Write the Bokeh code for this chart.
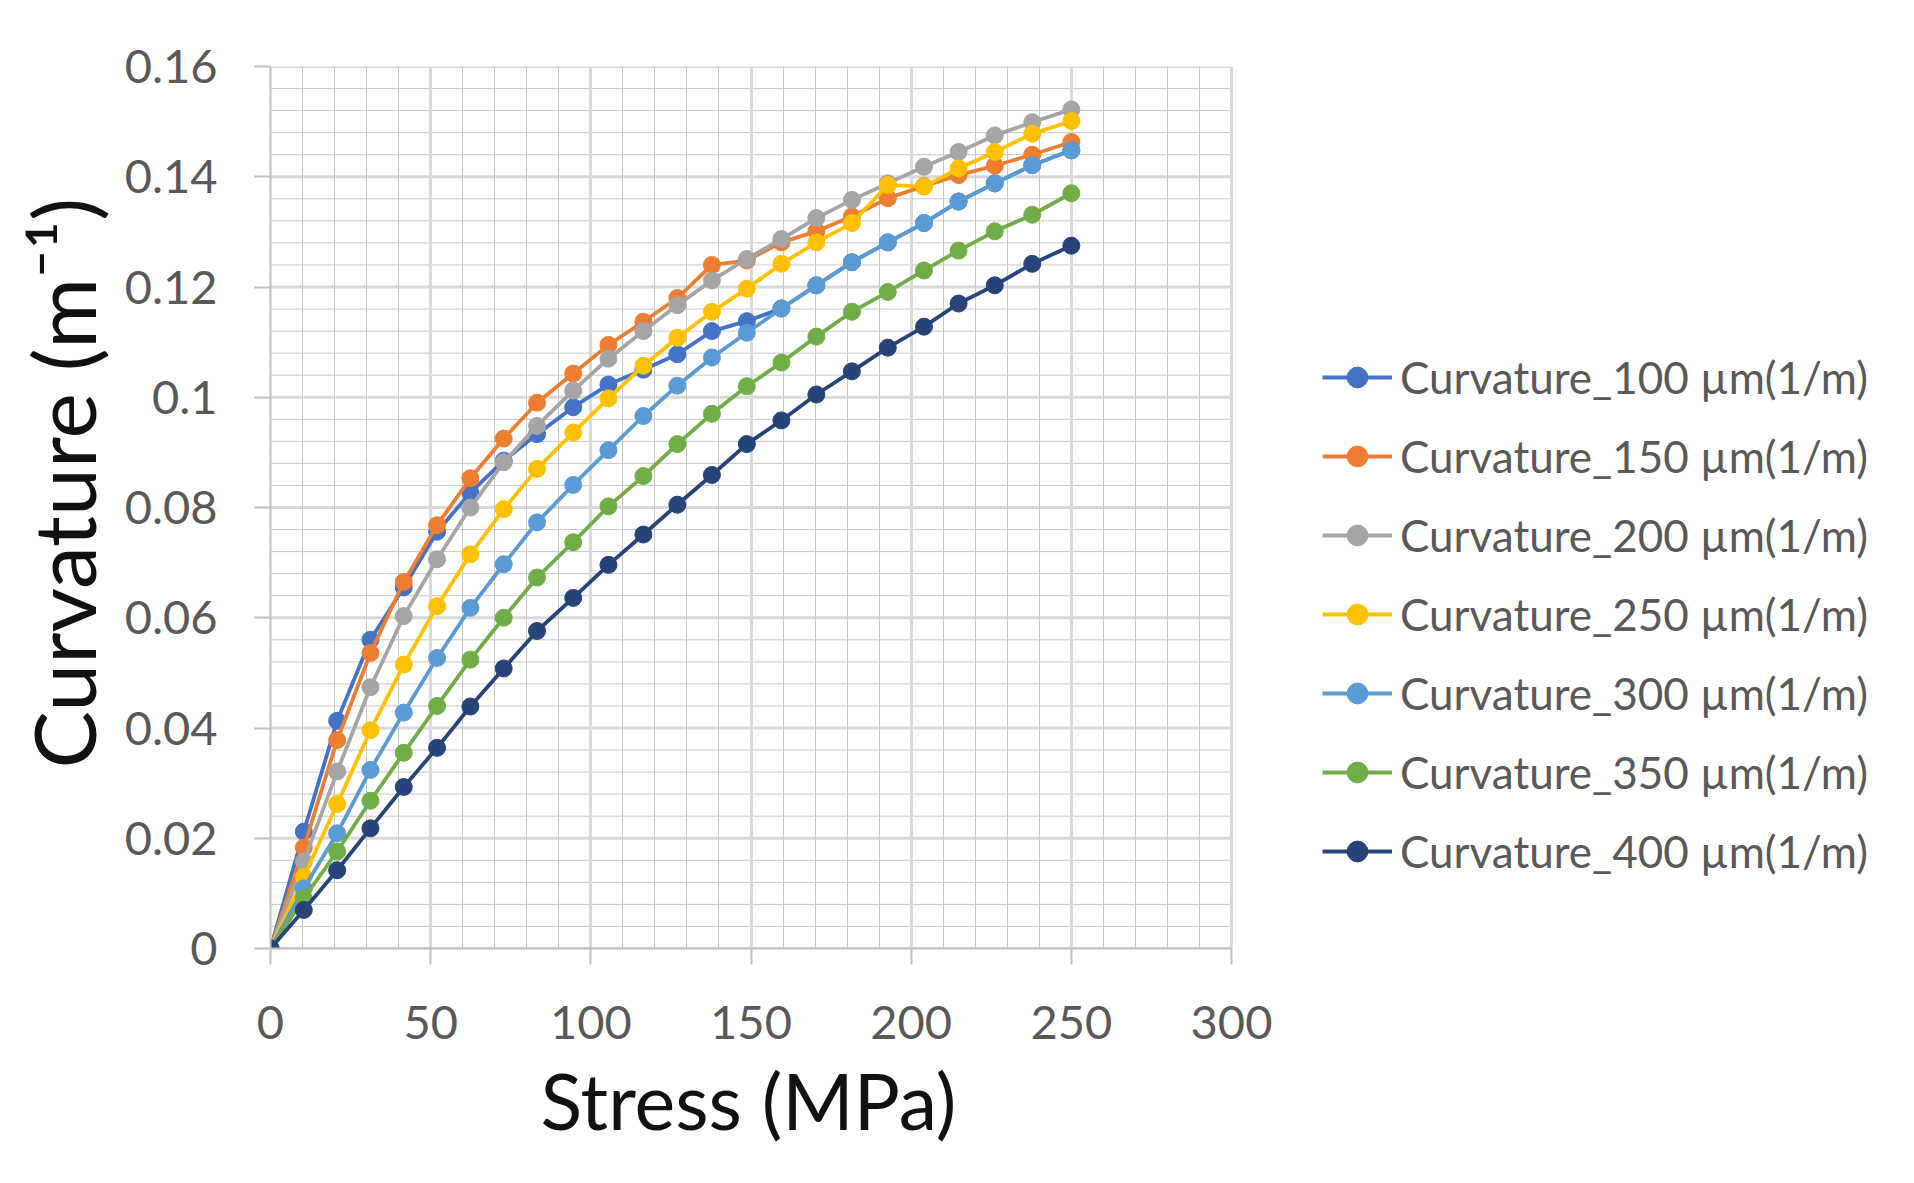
from bokeh.plotting import figure
from bokeh.models import FixedTicker, NumeralTickFormatter, Legend, LegendItem, Range1d, Title
from bokeh.embed import file_html
from bokeh.resources import INLINE

# ---- data ----
stress = [0, 10.4, 20.8, 31.2, 41.6, 52.0, 62.4, 72.8, 83.2, 94.5, 105.5, 116.4,
          127.0, 137.8, 148.7, 159.5, 170.4, 181.5, 192.7, 204.0, 214.8, 226.1, 237.8, 250.0]

c100 = [0, 0.0212, 0.0413, 0.0560, 0.0655, 0.0756, 0.0827, 0.0885, 0.0933, 0.0982, 0.1023, 0.1050,
        0.1078, 0.1120, 0.1138, 0.1161, 0.1203, 0.1245, 0.1281, 0.1316, 0.1355, 0.1388, 0.1421, 0.1448]
c150 = [0, 0.0183, 0.0378, 0.0536, 0.0665, 0.0768, 0.0853, 0.0925, 0.0990, 0.1043, 0.1095, 0.1137,
        0.1180, 0.1240, 0.1248, 0.1281, 0.1301, 0.1328, 0.1361, 0.1383, 0.1403, 0.1420, 0.1440, 0.1463]
c200 = [0, 0.0158, 0.0321, 0.0474, 0.0603, 0.0706, 0.0800, 0.0882, 0.0948, 0.1012, 0.1070, 0.1120,
        0.1167, 0.1212, 0.1251, 0.1287, 0.1325, 0.1358, 0.1388, 0.1418, 0.1445, 0.1475, 0.1499, 0.1522]
c250 = [0, 0.0130, 0.0262, 0.0396, 0.0515, 0.0621, 0.0715, 0.0797, 0.0870, 0.0936, 0.0998, 0.1057,
        0.1108, 0.1155, 0.1197, 0.1242, 0.1281, 0.1316, 0.1385, 0.1382, 0.1415, 0.1445, 0.1478, 0.1501]
c300 = [0, 0.0109, 0.0209, 0.0324, 0.0428, 0.0527, 0.0618, 0.0697, 0.0773, 0.0841, 0.0904, 0.0966,
        0.1021, 0.1072, 0.1117, 0.1161, 0.1203, 0.1245, 0.1281, 0.1316, 0.1355, 0.1388, 0.1421, 0.1448]
c350 = [0, 0.0091, 0.0176, 0.0268, 0.0355, 0.0440, 0.0524, 0.0600, 0.0673, 0.0737, 0.0802, 0.0857,
        0.0915, 0.0970, 0.1020, 0.1063, 0.1110, 0.1155, 0.1191, 0.1230, 0.1266, 0.1301, 0.1331, 0.1370]
c400 = [0, 0.0070, 0.0142, 0.0218, 0.0293, 0.0364, 0.0439, 0.0508, 0.0576, 0.0636, 0.0696, 0.0751,
        0.0805, 0.0859, 0.0915, 0.0958, 0.1005, 0.1047, 0.1090, 0.1128, 0.1170, 0.1203, 0.1242, 0.1275]

series_names = ["Curvature_100 µm(1/m)", "Curvature_150 µm(1/m)", "Curvature_200 µm(1/m)",
                "Curvature_250 µm(1/m)", "Curvature_300 µm(1/m)", "Curvature_350 µm(1/m)",
                "Curvature_400 µm(1/m)"]
series_values = [c100, c150, c200, c250, c300, c350, c400]
series_colors = ["#4472C4", "#ED7D31", "#A5A5A5", "#FFC000", "#5B9BD5", "#70AD47", "#264478"]

x_ticks = [0, 50, 100, 150, 200, 250, 300]
x_minor = [10, 20, 30, 40, 60, 70, 80, 90, 110, 120, 130, 140, 160, 170, 180, 190,
           210, 220, 230, 240, 260, 270, 280, 290]
y_ticks = [0, 0.02, 0.04, 0.06, 0.08, 0.10, 0.12, 0.14, 0.16]
y_minor = [0.004, 0.008, 0.012, 0.016, 0.024, 0.028, 0.032, 0.036, 0.044, 0.048, 0.052, 0.056,
           0.064, 0.068, 0.072, 0.076, 0.084, 0.088, 0.092, 0.096, 0.104, 0.108, 0.112, 0.116,
           0.124, 0.128, 0.132, 0.136, 0.144, 0.148, 0.152, 0.156]

x_title = "Stress (MPa)"
y_title = "Curvature (m⁻¹)"

FONT = "Lato"
TXT = "#595959"

# layout (pixels): plot area 0..300 MPa spans 961 px; the frame continues to the right
# (blank) so that the legend can sit beside the chart
PLOT_PX = 961
FRAME_W = 1633
FRAME_H = 882
x_end = x_ticks[-1] * FRAME_W / PLOT_PX

p = figure(frame_width=FRAME_W, frame_height=FRAME_H, output_backend="svg", toolbar_location=None,
           x_range=Range1d(0, x_end), y_range=Range1d(0, 0.16),
           min_border_left=265, min_border_right=0, min_border_top=66, min_border_bottom=200)

p.background_fill_color = "white"
p.border_fill_color = "white"
p.outline_line_color = None

p.xaxis.ticker = FixedTicker(ticks=x_ticks, minor_ticks=x_minor)
p.yaxis.ticker = FixedTicker(ticks=y_ticks, minor_ticks=y_minor)
p.yaxis.formatter = NumeralTickFormatter(format="0.[00]")
p.xaxis.bounds = (x_ticks[0], x_ticks[-1])

for ax in (p.xaxis[0], p.yaxis[0]):
    ax.axis_line_color = "#bfbfbf"
    ax.axis_line_width = 2
    ax.major_tick_line_color = "#bfbfbf"
    ax.major_tick_line_width = 2
    ax.major_tick_out = 16
    ax.major_tick_in = 0
    ax.minor_tick_out = 0
    ax.minor_tick_in = 0
    ax.major_label_text_font = FONT
    ax.major_label_text_font_size = "47px"
    ax.major_label_text_color = TXT

p.xaxis.major_label_standoff = 41
p.yaxis.major_label_standoff = 37

# axis titles as side-panel titles so they can be placed along the 0..300 part
xt = Title(text=x_title, align="left", offset=270, standoff=20,
           text_font=FONT, text_font_size="77px", text_font_style="normal", text_color="#111111")
p.add_layout(xt, "below")
yt = Title(text=y_title, align="left", offset=180, standoff=16,
           text_font=FONT, text_font_size="86px", text_font_style="normal", text_color="#111111")
p.add_layout(yt, "left")

# vertical grid lines (native grid, limited to the 0..300 ticks)
p.xgrid.grid_line_color = "#d9d9d9"
p.xgrid.grid_line_width = 3
p.xgrid.minor_grid_line_color = "#c8c8c8"
p.xgrid.minor_grid_line_width = 1
p.ygrid.visible = False

# horizontal grid lines drawn only across the 0..300 plot area
p.segment(x0=[x_ticks[0]] * len(y_minor), x1=[x_ticks[-1]] * len(y_minor), y0=y_minor, y1=y_minor,
          line_color="#c8c8c8", line_width=1, level="underlay")
p.segment(x0=[x_ticks[0]] * len(y_ticks), x1=[x_ticks[-1]] * len(y_ticks), y0=y_ticks, y1=y_ticks,
          line_color="#d9d9d9", line_width=3, level="underlay")

items = []
for name, vals, col in zip(series_names, series_values, series_colors):
    lr = p.line(stress, vals, line_color=col, line_width=3.8)
    sr = p.scatter(stress, vals, size=17, marker="circle", fill_color=col, line_color=col)
    items.append(LegendItem(label=name, renderers=[lr, sr]))

legend = Legend(items=items, location=(1052, 70))
legend.border_line_color = None
legend.background_fill_alpha = 0
legend.padding = 0
legend.margin = 0
legend.spacing = 25
legend.glyph_width = 70
legend.glyph_height = 52
legend.label_height = 54
legend.label_standoff = 8
legend.label_text_font = FONT
legend.label_text_font_size = "44px"
legend.label_text_color = TXT
p.add_layout(legend)

open("out.html", "w").write(file_html(p, INLINE))
